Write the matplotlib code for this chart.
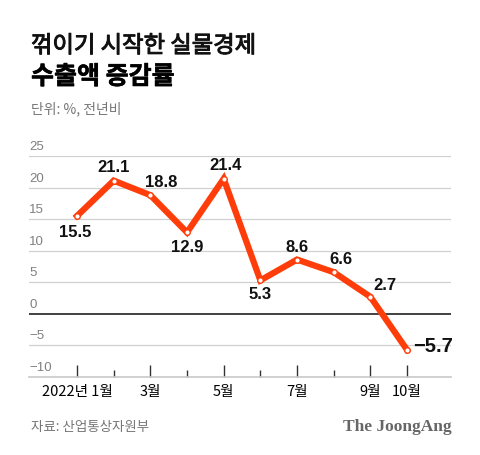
import matplotlib
matplotlib.use('Agg')
import matplotlib.pyplot as plt
import matplotlib.patheffects as pe
from matplotlib.transforms import blended_transform_factory

plt.rcParams['font.family'] = ['Noto Sans CJK KR', 'DejaVu Sans']

# 데이터
months = list(range(1, 11))
values = [15.5, 21.1, 18.8, 12.9, 21.4, 5.3, 8.6, 6.6, 2.7, -5.7]
value_labels = ['15.5', '21.1', '18.8', '12.9', '21.4', '5.3', '8.6', '6.6', '2.7', '−5.7']
major_months = [1, 3, 5, 7, 9, 10]
major_labels = ['2022년 1월', '3월', '5월', '7월', '9월', '10월']
minor_months = [2, 4, 6, 8]
y_ticks = [-10, -5, 0, 5, 10, 15, 20, 25]
y_tick_labels = ['−10', '−5', '0', '5', '10', '15', '20', '25']

# 라벨 위치 (픽셀 오프셋)
offsets = [(-2, -17), (0, 13), (11, 13), (0, -15), (2, 13),
           (0, -14), (0, 12), (7, 13), (15, 11), (6, 3)]

RED = '#ff3d0a'

fig = plt.figure(figsize=(4.8, 4.55), dpi=100)
fig.patch.set_facecolor('white')
ax = fig.add_axes([29 / 480, 1 - 377 / 455, (451 - 29) / 480, (377 - 156) / 455])

ax.set_xlim(1 - 48 / 36.67, 1 + 374 / 36.67)
ax.set_ylim(-10, 25)

# 그리드
for y in y_ticks[1:]:
    if y == 0:
        ax.axhline(y, color='#333333', lw=1.3, zorder=1)
    else:
        ax.axhline(y, color='#d0d0d0', lw=0.9, zorder=1)

tr = blended_transform_factory(ax.transAxes, ax.transData)
for y, lab in zip(y_ticks, y_tick_labels):
    ax.annotate(lab, (0, y), xycoords=tr, xytext=(0, 3), textcoords='offset pixels',
                ha='left', va='bottom', fontsize=9.5, color='#808080',
                family=['Liberation Sans', 'DejaVu Sans'])

for s in ['top', 'right', 'left']:
    ax.spines[s].set_visible(False)
ax.spines['bottom'].set_color('#c8c8c8')
ax.spines['bottom'].set_linewidth(1.2)

ax.set_yticks([])
ax.set_xticks(major_months)
ax.set_xticklabels(major_labels, fontsize=10.5)
ax.set_xticks(minor_months, minor=True)
ax.tick_params(axis='x', which='major', direction='in', length=9, width=1, color='#333333', pad=6)
ax.tick_params(axis='x', which='minor', direction='in', length=5, width=1, color='#333333')

# 선
ax.plot(months, values, color=RED, lw=4.5, solid_joinstyle='miter', zorder=3)
ax.plot(months, values, 'o', ms=4, mfc='white', mec=RED, mew=1, zorder=4)

for i, (m, v, lab) in enumerate(zip(months, values, value_labels)):
    dx, dy = offsets[i]
    last = i == len(values) - 1
    ax.annotate(lab, (m, v), xytext=(dx, dy), textcoords='offset pixels',
                ha='left' if last else 'center', va='center',
                fontsize=14.5 if last else 12, fontweight='bold', color='#111111',
                family=['Liberation Sans', 'DejaVu Sans'], zorder=5)

# 제목
fig.text(31 / 480, 1 - 46 / 455, '꺾이기 시작한 실물경제', fontsize=16.8,
         color='#111111', va='center', ha='left',
         path_effects=[pe.withStroke(linewidth=0.7, foreground='#111111')])
fig.text(31 / 480, 1 - 77 / 455, '수출액 증감률', fontsize=18, fontweight='bold',
         color='#000000', va='center', ha='left',
         path_effects=[pe.withStroke(linewidth=0.4, foreground='#000000')])
fig.text(31 / 480, 1 - 109 / 455, '단위: %, 전년비', fontsize=10,
         color='#777777', va='center', ha='left')

fig.text(31 / 480, 1 - 427 / 455, '자료: 산업통상자원부', fontsize=9.7,
         color='#777777', va='center', ha='left')
fig.text(452 / 480, 1 - 427 / 455, 'The JoongAng', fontsize=12.5, fontweight='bold',
         family=['Liberation Serif', 'DejaVu Serif'], color='#666666', va='center', ha='right')

fig.savefig('out.png', dpi=100, facecolor='white')
